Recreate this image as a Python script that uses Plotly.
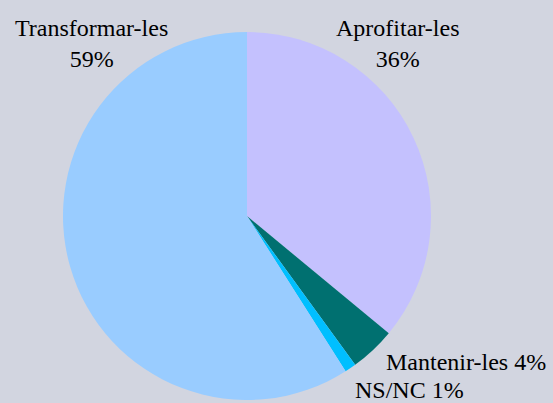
import plotly.graph_objects as go

categories = ["Aprofitar-les", "Mantenir-les", "NS/NC", "Transformar-les"]
values = [36, 4, 1, 59]
colors = ["#C4C1FE", "#007070", "#00BFFF", "#99CCFF"]
label_texts = ["Aprofitar-les<br>36%", "Mantenir-les 4%", "NS/NC 1%", "Transformar-les<br>59%"]

W, H = 553, 403
BG = "#D2D5E0"
cx, cy, r = 247, 216, 184

fig = go.Figure(go.Pie(
    labels=categories, values=values, sort=False, direction="clockwise", rotation=0,
    marker=dict(colors=colors, line=dict(width=0)),
    textinfo="none", hoverinfo="label+percent", showlegend=False,
    domain=dict(x=[(cx - r) / W, (cx + r) / W], y=[(H - cy - r) / H, (H - cy + r) / H]),
))

# label positions (pixel coords of label centers)
label_pos = [(397.5, 43), (465.5, 362), (409.5, 390), (91.5, 43)]
for t, (px, py) in zip(label_texts, label_pos):
    fig.add_annotation(x=px / W, y=1 - py / H, xref="paper", yref="paper", text=t,
                       showarrow=False, align="center", xanchor="center", yanchor="middle",
                       borderpad=0,
                       font=dict(family="Liberation Serif, Times New Roman, serif", size=24, color="#000000"))

fig.update_layout(width=W, height=H, margin=dict(l=0, r=0, t=0, b=0),
                  paper_bgcolor=BG, plot_bgcolor=BG)
fig.write_html("out.html", config={"displayModeBar": False},
               post_script="document.body.style.margin='0';document.body.style.padding='0';"
                           "document.body.style.overflow='hidden';document.body.style.background='" + BG + "';")
